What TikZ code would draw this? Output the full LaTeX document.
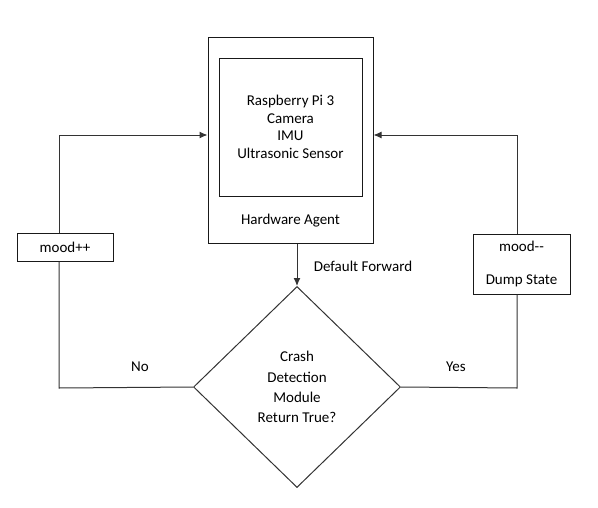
\documentclass[tikz,border=0pt]{standalone}
\usepackage{fontspec}
\setmainfont{Carlito}
\usepackage{tikz}
\usetikzlibrary{positioning}
\usetikzlibrary{arrows.meta,shapes.geometric}

\begin{document}
\begin{tikzpicture}[>={Latex[length=8pt,width=7pt]},x=1pt,y=-1pt,line width=1pt,
	every node/.style={font=\fontsize{15}{17.5}\selectfont},
	box/.style={draw=black!90,rectangle,inner sep=0pt,fill=white},
	link/.style={draw=black!80}]
				\useasboundingbox (0,0) rectangle (598,507);

				\node[box, minimum width=165pt, minimum height=206pt] (agent) at (290.5,140) {};
				\node[box, minimum width=143pt, minimum height=138pt, align=center] (pi) at (290.5,127)
					{Raspberry Pi 3\\Camera\\IMU\\Ultrasonic Sensor};
				\node (agentlbl) at (290.5,221) {Hardware Agent};

				\node[draw=black!80, diamond, inner sep=0pt, minimum width=207pt, minimum height=201pt,
					align=center, font=\fontsize{15}{20.3}\selectfont] (crash) at (297,387)
					{Crash\\Detection\\Module\\Return True?};

				\node[box, minimum width=96pt, minimum height=28pt] (moodup) at (65,247) {mood++};
				\node[box, minimum width=97pt, minimum height=60pt, align=center] (mooddown) at (521.5,264)
					{mood-{}-\\[15pt]Dump State};

				\coordinate (lbot) at (59,388);
				\coordinate (ltop) at (59,135);
				\coordinate (rbot) at (517,388);
				\coordinate (rtop) at (517,135);

				\node (no) at (140,367) {No};
				\node (yes) at (456,367) {Yes};
				\node (dflt) at (363,266) {Default Forward};

				% loops back to the agent
				\draw[link] (crash.west) -- (lbot) -- (lbot |- moodup.south);
				\draw[link,->] (lbot |- moodup.north) -- (ltop) -- (ltop -| agent.west);
				\draw[link] (crash.east) -- (rbot) -- (rbot |- mooddown.south);
				\draw[link,->] (rbot |- mooddown.north) -- (rtop) -- (rtop -| agent.east);
				\draw[link,->] (agent.south -| crash.north) -- (crash.north);
\end{tikzpicture}
\end{document}
